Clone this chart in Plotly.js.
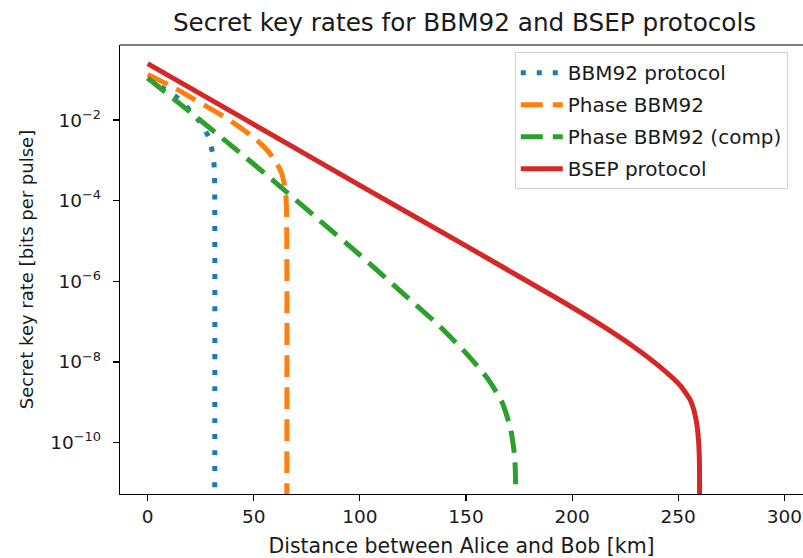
<!DOCTYPE html>
<html>
<head>
<meta charset="utf-8">
<script src="https://cdn.plot.ly/plotly-3.0.1.min.js"></script>
<style>html,body{margin:0;padding:0;background:#fff;}#chart{width:803px;height:558px;}</style>
</head>
<body>
<div id="chart"></div>
<script>
// Distance [km] and secret key rate [bits per pulse]
const bbm92X = [0, 7, 14.4, 20, 24.6, 28.6, 30.6, 31.4, 31.6, 31.6];
const bbm92Y = [0.11, 0.063, 0.0347, 0.017, 0.0089, 0.0039, 0.0015, 0.00065, 0.0001, 1e-13];

const phaseX = [0, 12, 24, 37, 50, 56, 60, 63, 64.8, 65.4, 65.5];
const phaseY = [0.135, 0.065, 0.028, 0.0112, 0.0037, 0.00186, 0.001, 0.0005, 0.0002, 6.3e-5, 1e-13];

const compX = [0, 20, 40, 60, 80, 100, 120, 137.7, 150, 160, 167, 171, 173, 173.6];
const compY = [0.11, 0.0158, 0.0022, 0.00029, 3.6e-5, 4.5e-6, 5.2e-7, 7.6e-8, 1.66e-8, 4e-9, 1e-9, 2.2e-10, 4e-11, 1e-13];

const bsepX = [0, 50, 100, 150, 175, 194, 213, 229, 241, 251, 256, 258.5, 259.6, 260, 260];
const bsepY = [0.25, 0.0078, 0.00024, 7.6e-6, 1.32e-6, 3.5e-7, 8.7e-8, 2.4e-8, 7.9e-9, 2.6e-9, 1.05e-9, 3.5e-10, 1.1e-10, 3.2e-11, 1e-13];

const yTickVals = [1e-2, 1e-4, 1e-6, 1e-8, 1e-10];
const yTickText = ['10<sup>−2</sup>', '10<sup>−4</sup>', '10<sup>−6</sup>', '10<sup>−8</sup>', '10<sup>−10</sup>'];
const xTickVals = [0, 50, 100, 150, 200, 250, 300];

const FONT = 'DejaVu Sans, sans-serif';
const TXT = '#1a1a1a';

const traces = [
  {x: bbm92X, y: bbm92Y, name: 'BBM92 protocol', mode: 'lines', legendgroup: 'a',
   line: {color: '#1f77b4', width: 5, dash: '5px,11px', shape: 'spline', smoothing: 0.6}},
  {x: phaseX, y: phaseY, name: 'Phase BBM92', mode: 'lines', legendgroup: 'b',
   line: {color: '#ff7f0e', width: 5, dash: '22px,10px', shape: 'spline', smoothing: 0.6}},
  {x: compX, y: compY, name: 'Phase BBM92 (comp)', mode: 'lines', legendgroup: 'c',
   line: {color: '#2ca02c', width: 5, dash: '22px,10px', shape: 'spline', smoothing: 0.6}},
  {x: bsepX, y: bsepY, name: 'BSEP protocol', mode: 'lines', legendgroup: 'd',
   line: {color: '#d62728', width: 5, shape: 'spline', smoothing: 0.6}}
];

const layout = {
  width: 803, height: 558,
  margin: {l: 120, r: 0, t: 45, b: 64, pad: 0},
  paper_bgcolor: '#fff', plot_bgcolor: '#fff',
  font: {family: FONT, color: TXT, size: 18},
  title: {text: 'Secret key rates for BBM92 and BSEP protocols', font: {size: 24.7, color: TXT},
          xref: 'container', x: 0.5785, xanchor: 'center', yref: 'container', y: 0.96, yanchor: 'middle'},
  showlegend: true,
  legend: {x: 0.578, xanchor: 'left', y: 0.984, yanchor: 'top', bgcolor: 'rgba(255,255,255,0.8)',
           bordercolor: '#d0d0d0', borderwidth: 1, font: {size: 20, color: TXT},
           tracegroupgap: 3, itemwidth: 42, traceorder: 'grouped'},
  xaxis: {range: [-13.05, 308.8], tickmode: 'array', tickvals: xTickVals,
          showgrid: false, zeroline: false, showline: true, linecolor: '#000', linewidth: 1.2,
          ticks: 'outside', ticklen: 6, tickwidth: 1.2, tickcolor: '#000',
          tickfont: {size: 18.5, color: TXT},
          title: {text: 'Distance between Alice and Bob [km]', font: {size: 20.5, color: TXT}, standoff: 12}},
  yaxis: {type: 'log', range: [-11.273, -0.139], tickmode: 'array', tickvals: yTickVals, ticktext: yTickText,
          showgrid: false, zeroline: false, showline: true, linecolor: '#000', linewidth: 1.2,
          ticks: 'outside', ticklen: 6, tickwidth: 1.2, tickcolor: '#000', ticklabelstandoff: 8,
          tickfont: {size: 18.5, color: TXT},
          title: {text: 'Secret key rate [bits per pulse]', font: {size: 18, color: TXT}, standoff: 12}},
  shapes: [{type: 'line', xref: 'paper', yref: 'paper', x0: 0, x1: 1, y0: 1, y1: 1,
            line: {color: '#000', width: 1.2}}]
};

Plotly.newPlot('chart', traces, layout, {staticPlot: true, displayModeBar: false});
</script>
</body>
</html>
